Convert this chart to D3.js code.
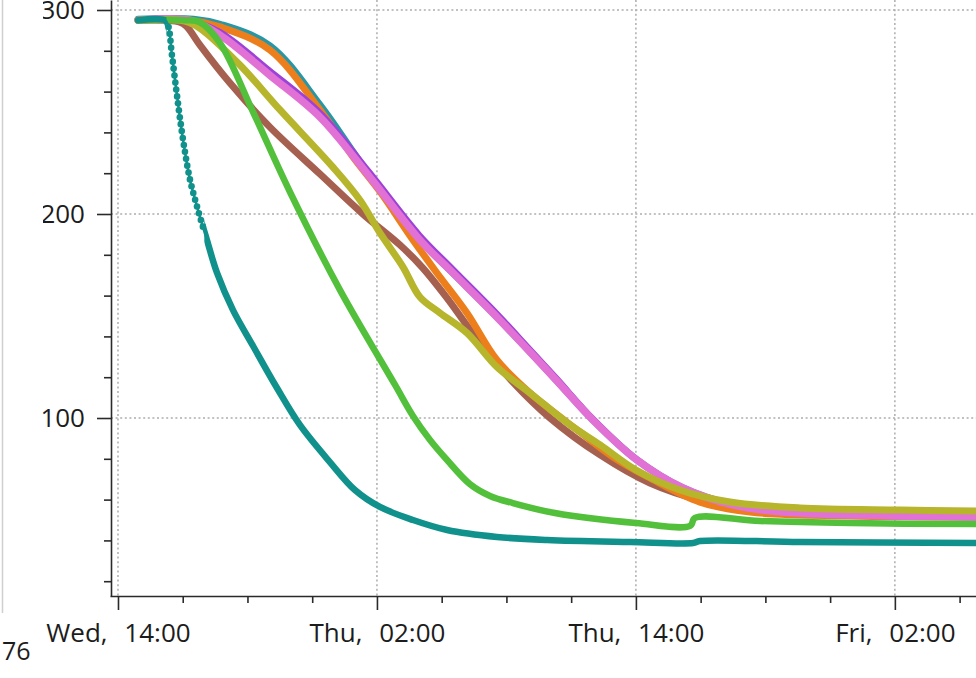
<!DOCTYPE html>
<html><head><meta charset="utf-8">
<script src="https://cdn.jsdelivr.net/npm/d3@7"></script>
<style>body{margin:0;background:#fff} svg{display:block}</style>
</head><body>
<script>
// Day 0 = Wednesday; times are hours since Wed 00:00
const baseDay = new Date(2023, 0, 4);

const tealHours   = [14.93, 16.18, 16.32, 16.50, 16.69, 16.87, 17.06, 17.34, 17.71, 18.12, 18.59, 19.33, 20.26, 21.37, 22.43, 23.82, 24.98, 26.14, 27.67, 29.25, 31.56, 33.88, 37.73, 40.65, 40.97, 45.60, 53.76];
const tealValues  = [295, 295, 292.6, 277.9, 261.8, 247.1, 233.3, 216.7, 201.9, 187.3, 171.1, 152.9, 135.3, 114.7, 96.6, 78.4, 64.7, 56.4, 50.0, 45.1, 41.7, 40.2, 39.2, 38.7, 39.7, 39.2, 38.7];

const greenHours  = [14.93, 17.10, 17.80, 18.73, 20.26, 21.97, 24.29, 26.84, 27.67, 28.46, 29.25, 30.31, 31.24, 32.30, 34.25, 38.00, 40.51, 40.74, 43.75, 47.92, 53.76];
const greenValues = [295, 295, 294, 283.8, 250, 210.8, 162.7, 116.2, 101, 89.2, 79.4, 67.6, 61.8, 58.3, 53.4, 48.5, 47.1, 51, 49.5, 48.5, 48];

const brownHours  = [14.93, 16.87, 17.20, 17.80, 19.19, 21.04, 23.36, 25.35, 27.07, 28.13, 29.25, 30.77, 32.30, 34.02, 36.34, 38.65, 40.97, 43.29, 47.92, 53.76];
const brownValues = [295, 294, 291.7, 282.8, 264.2, 242.6, 219.6, 200, 184.8, 173.5, 158.8, 136.8, 117.6, 100, 81.9, 68.1, 59.8, 55.9, 53.4, 52.9];

const oliveHours  = [14.93, 17.10, 17.80, 19.65, 21.51, 23.96, 25.21, 26.14, 27.21, 27.99, 28.92, 30.17, 31.56, 33.09, 34.95, 36.34, 38.00, 40.04, 42.36, 45.60, 50.24, 53.76];
const oliveValues = [295, 294.5, 291, 273, 251, 223, 206.9, 190.7, 174, 159.3, 151.5, 141.7, 125, 112.3, 96.6, 86.8, 74.5, 64.7, 58.8, 55.9, 54.9, 54.4];

const orangeHours  = [14.93, 17.34, 18.73, 21.04, 23.36, 24.89, 26.14, 27.67, 28.78, 30.17, 31.56, 33.09, 35.41, 36.94, 38.65, 40.97, 43.29, 47.92, 53.76];
const orangeValues = [295, 295, 291.7, 280.4, 251, 228, 211, 187.3, 171.1, 151.5, 128.4, 112.3, 93.1, 80.9, 70.6, 58.8, 53.9, 52, 51.5];

const cyanHours  = [14.93, 17.50, 18.73, 21.04, 23.36, 24.89, 26.14, 27.99, 29.52, 31.56, 33.09, 34.35, 36.01, 38.05, 40.18, 42.50, 44.82, 53.76];
const cyanValues = [295.5, 295.5, 293, 282.5, 253.5, 230.5, 211.5, 187.3, 171.1, 149.5, 132.4, 118.1, 99, 79.4, 65.7, 57.4, 53.9, 51.5];

const pinkHours  = [14.93, 17.34, 18.73, 21.04, 23.36, 25.68, 27.99, 29.52, 31.56, 33.09, 34.35, 36.01, 38.05, 40.18, 42.50, 44.82, 53.76];
const pinkValues = [295, 295, 287.7, 268, 247.5, 218, 187.3, 171.1, 149.5, 132.4, 118.1, 99, 79.4, 65.7, 57.4, 53.9, 51.5];

const purpleHours  = [14.93, 17.34, 18.73, 21.04, 23.36, 25.68, 27.99, 29.52, 31.56, 33.09, 34.35, 36.01, 38.05, 40.18, 42.50, 44.82, 53.76];
const purpleValues = [295, 295, 289.5, 270.5, 250, 220.5, 189.8, 173.3, 151.5, 134, 119.5, 100, 80, 66, 57.6, 54, 51.6];

const yMajorTicks = [100, 200, 300];
const cornerLabel = "76";

const series = [
  {name: "cyan",   hours: cyanHours,   values: cyanValues,   color: "#2797a6", width: 7},
  {name: "brown",  hours: brownHours,  values: brownValues,  color: "#a6604f", width: 7},
  {name: "orange", hours: orangeHours, values: orangeValues, color: "#ec7f1c", width: 7},
  {name: "purple", hours: purpleHours, values: purpleValues, color: "#9d42d8", width: 5},
  {name: "pink",   hours: pinkHours,   values: pinkValues,   color: "#e171d5", width: 7.5},
  {name: "olive",  hours: oliveHours,  values: oliveValues,  color: "#b6b52b", width: 7},
  {name: "green",  hours: greenHours,  values: greenValues,  color: "#53c03c", width: 6.5}
];

const W = 976, H = 678;
const toDate = h => new Date(baseDay.getTime() + h * 3600e3);

const svg = d3.select("body").append("svg").attr("width", W).attr("height", H)
  .style("font-family", "'Open Sans', sans-serif");

const x = d3.scaleTime().domain([toDate(13.63), toDate(53.76)]).range([110, 976]);
const y = d3.scaleLinear().domain([12.75, 304.9]).range([596, 0]);

// grid
const allHours = d3.timeHours(toDate(13), toDate(56));
const xMajor = allHours.filter(d => d.getHours() % 12 === 2);
const xMinor = allHours.filter(d => d.getHours() % 3 === 2 && d.getHours() % 12 !== 2);
const yMinor = d3.range(20, 300, 20).filter(v => v % 100 !== 0);

const grid = svg.append("g").attr("stroke", "#adadad").attr("stroke-width", 1.5).attr("stroke-dasharray", "2,2.6");
grid.selectAll(".gx").data(xMajor).join("line")
  .attr("x1", d => x(d)).attr("x2", d => x(d)).attr("y1", 0).attr("y2", 596);
grid.selectAll(".gy").data(yMajorTicks).join("line")
  .attr("x1", 111).attr("x2", W).attr("y1", d => y(d)).attr("y2", d => y(d));

// lines
const line = d3.line().x(d => x(d[0])).y(d => y(d[1])).curve(d3.curveCatmullRom.alpha(0.5));
const pts = s => s.hours.map((h, i) => [toDate(h), s.values[i]]);

const g = svg.append("g").attr("fill", "none").attr("stroke-linejoin", "round").attr("stroke-linecap", "round");
series.forEach(s => {
  g.append("path").attr("d", line(pts(s))).attr("stroke", s.color).attr("stroke-width", s.width);
});

// teal series: dotted markers where it drops steeply, solid elsewhere
const defs = svg.append("defs");
const xa = x(toDate(16.25)), xb = x(toDate(18.0));
const solidClip = defs.append("clipPath").attr("id", "solidClip");
solidClip.append("rect").attr("x", 0).attr("y", 0).attr("width", xa).attr("height", H);
solidClip.append("rect").attr("x", xb).attr("y", 0).attr("width", W - xb).attr("height", H);

const tealPts = tealHours.map((h, i) => [toDate(h), tealValues[i]]);
const tealColor = "#11918b";
const tealThin = g.append("path").attr("d", line(tealPts)).attr("stroke", tealColor).attr("stroke-width", 2.5);
g.append("path").attr("d", line(tealPts)).attr("stroke", tealColor).attr("stroke-width", 6.5)
  .attr("clip-path", "url(#solidClip)");

const pathNode = tealThin.node();
const total = pathNode.getTotalLength();
const dots = [];
for (let l = 0; l <= total; l += 7) {
  const p = pathNode.getPointAtLength(l);
  if (p.x >= xa && p.x <= xb) dots.push(p);
}
svg.append("g").selectAll("circle").data(dots).join("circle")
  .attr("cx", d => d.x).attr("cy", d => d.y).attr("r", 3.3).attr("fill", tealColor);

// axes
const axisColor = "#2a2a2a";
svg.append("g").attr("transform", "translate(111,0)")
  .call(d3.axisLeft(y).tickValues(yMajorTicks).tickSize(14).tickSizeOuter(0).tickPadding(12));
svg.append("g").attr("transform", "translate(111,0)")
  .call(d3.axisLeft(y).tickValues(yMinor).tickSize(7).tickSizeOuter(0).tickFormat(""))
  .call(a => a.select(".domain").remove());
const xAxis = svg.append("g").attr("transform", "translate(0,596)")
  .call(d3.axisBottom(x).tickValues(xMajor).tickSize(14).tickSizeOuter(0).tickPadding(14)
    .tickFormat(d3.timeFormat("%a, %H:%M")));
svg.append("g").attr("transform", "translate(0,596)")
  .call(d3.axisBottom(x).tickValues(xMinor).tickSize(7).tickSizeOuter(0).tickFormat(""))
  .call(a => a.select(".domain").remove());

svg.selectAll(".domain").attr("stroke", axisColor).attr("stroke-width", 1.6);
svg.selectAll(".tick line").attr("stroke", axisColor).attr("stroke-width", 1.6);
svg.selectAll(".tick text").attr("fill", "#1c1c1c").style("font-size", "26px")
  .style("font-family", "'Open Sans', sans-serif");
xAxis.selectAll(".tick text").style("word-spacing", "10px");

// overlay panel at far left
svg.append("rect").attr("x", 3).attr("y", -2).attr("width", 40).attr("height", 615).attr("fill", "#fff");
svg.append("line").attr("x1", 2.5).attr("x2", 2.5).attr("y1", 0).attr("y2", 613)
  .attr("stroke", "#cfcfcf").attr("stroke-width", 1.5);
svg.append("text").attr("x", 2).attr("y", 660).text(cornerLabel)
  .attr("fill", "#1c1c1c").style("font-size", "25px");
</script>
</body></html>
